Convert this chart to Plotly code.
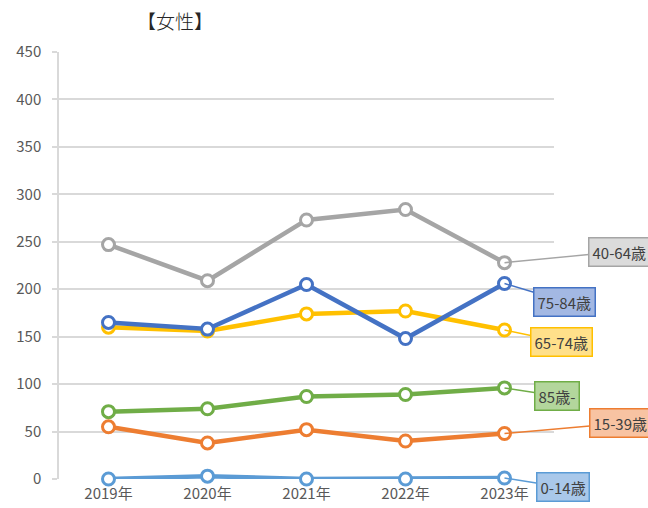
import plotly.graph_objects as go

years = ["2019年", "2020年", "2021年", "2022年", "2023年"]
series_names = ["0-14歳", "15-39歳", "40-64歳", "65-74歳", "75-84歳", "85歳-"]
v_0_14 = [0, 3, 0, 0, 1]
v_15_39 = [55, 38, 52, 40, 48]
v_40_64 = [247, 209, 273, 284, 228]
v_65_74 = [160, 156, 174, 177, 157]
v_75_84 = [165, 158, 205, 148, 206]
v_85 = [71, 74, 87, 89, 96]
values = [v_0_14, v_15_39, v_40_64, v_65_74, v_75_84, v_85]

colors = ["#5B9BD5", "#ED7D31", "#A5A5A5", "#FFC000", "#4472C4", "#70AD47"]
fills = ["#A9C8EA", "#F8C3A2", "#DBDBDB", "#FFE08A", "#A3B8E3", "#B3D69C"]
label_offsets = [(58, 9), (116, -10), (115, -11), (57, 12), (60, 18), (52, 8)]

FONT = "Noto Sans CJK JP"

fig = go.Figure()
for name, vals, c in zip(series_names, values, colors):
    fig.add_trace(go.Scatter(
        x=years, y=vals, name=name, mode="lines+markers",
        line=dict(color=c, width=4.5),
        marker=dict(symbol="circle", size=12, color="white",
                    line=dict(color=c, width=3)),
        showlegend=False, cliponaxis=False,
    ))

for name, vals, c, f, (ax, ay) in zip(series_names, values, colors, fills, label_offsets):
    fig.add_annotation(
        x=years[-1], y=vals[-1], text=name,
        showarrow=True, arrowhead=0, arrowwidth=1.5, arrowcolor=c,
        ax=ax, ay=ay, standoff=0,
        bgcolor=f, bordercolor=c, borderwidth=1.5, borderpad=3,
        font=dict(family=FONT, size=15, color="#404040", weight=400),
    )

fig.add_annotation(
    text="【女性】", xref="paper", yref="paper",
    x=(175 - 59) / 495, y=1 + 31 / 427, xanchor="center", yanchor="middle",
    showarrow=False, font=dict(family=FONT, size=19, color="#262626", weight=300),
)

fig.update_layout(
    width=648, height=508,
    margin=dict(l=59, r=94, t=52, b=29, autoexpand=False),
    paper_bgcolor="white", plot_bgcolor="white",
    font=dict(family=FONT, color="#595959", size=15),
)
fig.update_xaxes(
    type="category", range=[-0.5, 4.5], autorange=False,
    showgrid=False, zeroline=False,
    showline=False, ticks="", tickfont=dict(size=15, color="#595959", weight=400),
    ticklabelstandoff=4,
)
fig.update_yaxes(
    range=[0, 450], autorange=False, dtick=50, showgrid=True, gridcolor="#D9D9D9", gridwidth=1.5,
    zeroline=False, showline=True, linecolor="#D9D9D9", linewidth=1.5,
    ticks="outside", ticklen=5, tickcolor="#D9D9D9", tickwidth=1.5,
    tickfont=dict(size=15, color="#595959", weight=400), ticklabelstandoff=8,
)

fig.write_html(
    "out.html",
    config={"displayModeBar": False},
    post_script="document.body.style.margin='0';document.body.style.overflow='hidden';",
)
